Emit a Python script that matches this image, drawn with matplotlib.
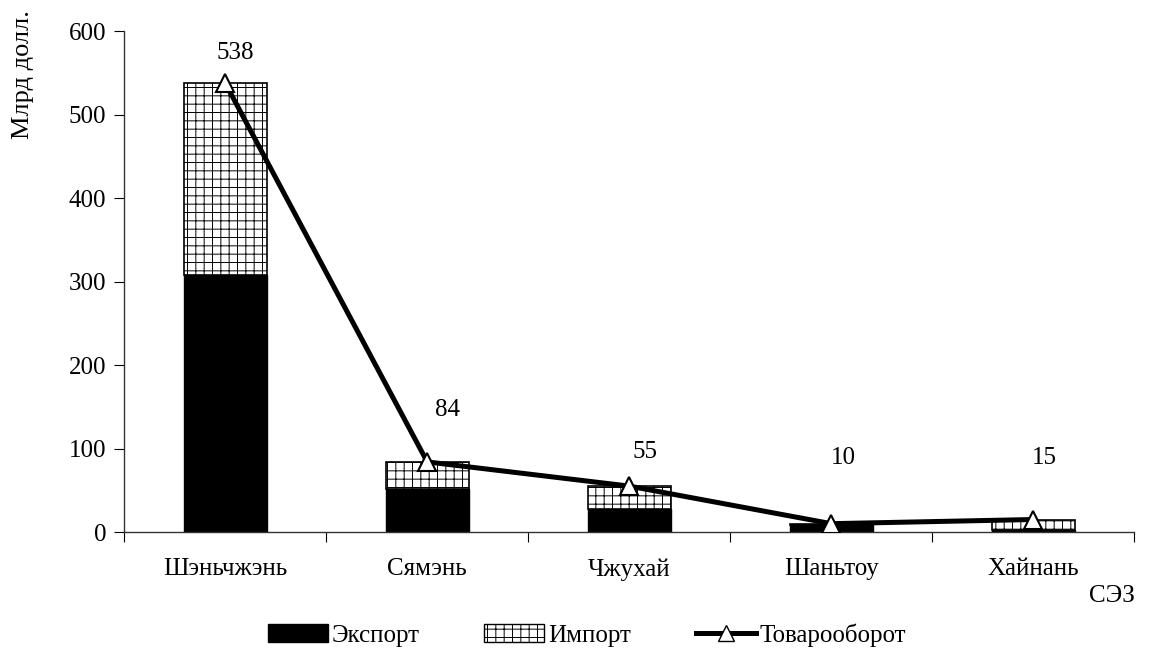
import matplotlib
matplotlib.use('Agg')
import matplotlib.pyplot as plt
from matplotlib.patches import Patch
from matplotlib.lines import Line2D
import numpy as np

# data
zones = ['Шэньчжэнь', 'Сямэнь', 'Чжухай', 'Шаньтоу', 'Хайнань']
export = [308, 52, 28, 9, 3]
imports = [230, 32, 27, 1, 12]
turnover = [538, 84, 55, 10, 15]

plt.rcParams['font.family'] = ['Liberation Serif', 'DejaVu Serif']
plt.rcParams['hatch.color'] = '#909090'
plt.rcParams['hatch.linewidth'] = 0.7

FS = 18

fig = plt.figure(figsize=(11.6, 6.5), dpi=100)
ax = fig.add_axes([0.107, 0.1815, 0.871, 0.7705])

x = np.arange(len(zones))
w = 0.41
ax.bar(x, export, w, color='black', edgecolor='black', linewidth=1)
ax.bar(x, imports, w, bottom=export, color='white', edgecolor='black',
       linewidth=1.2, hatch='++')
ax.plot(x, turnover, color='black', lw=3.6, marker='^', ms=13,
        markerfacecolor='white', markeredgecolor='black', markeredgewidth=1.5,
        zorder=5)

# label offsets in pixels (above the markers, a bit to the right)
offs = [(10, 30), (20, 52), (16, 34), (12, 66), (11, 62)]
for xi, v, o in zip(x, turnover, offs):
    ax.annotate(str(v), (xi, v), xytext=o, textcoords='offset pixels',
                ha='center', va='center', fontsize=FS)

ax.set_xlim(-0.5, len(zones) - 0.5)
ax.set_ylim(0, 600)
ax.set_yticks(range(0, 601, 100))
ax.set_xticks(np.arange(-0.5, len(zones), 1.0))
ax.set_xticklabels([])
ax.set_xticks(x, minor=True)
ax.set_xticklabels(zones, minor=True, fontsize=FS)
ax.tick_params(axis='x', which='minor', length=0, pad=19)
ax.tick_params(axis='x', which='major', length=7, direction='out')
ax.tick_params(axis='y', length=7, direction='out', labelsize=FS, pad=6)
for s in ['top', 'right']:
    ax.spines[s].set_visible(False)
for s in ['left', 'bottom']:
    ax.spines[s].set_color('#333333')
    ax.spines[s].set_linewidth(1)

fig.text(0.02, 0.985, 'Млрд долл.', rotation=90, ha='center', va='top',
         fontsize=19)
fig.text(0.978, 0.083, 'СЭЗ', ha='right', va='center', fontsize=FS)

handles = [
    Patch(facecolor='black', edgecolor='black'),
    Patch(facecolor='white', edgecolor='black', hatch='++'),
    Line2D([0], [0], color='black', lw=3.6, marker='^', ms=12,
           markerfacecolor='white', markeredgecolor='black'),
]
fig.legend(handles, ['Экспорт', 'Импорт', 'Товарооборот'], loc='center',
           bbox_to_anchor=(0.506, 0.023), ncol=3, frameon=False, fontsize=FS,
           handlelength=2.4, handletextpad=0.15, columnspacing=2.6)

fig.savefig('out.png', dpi=100)
